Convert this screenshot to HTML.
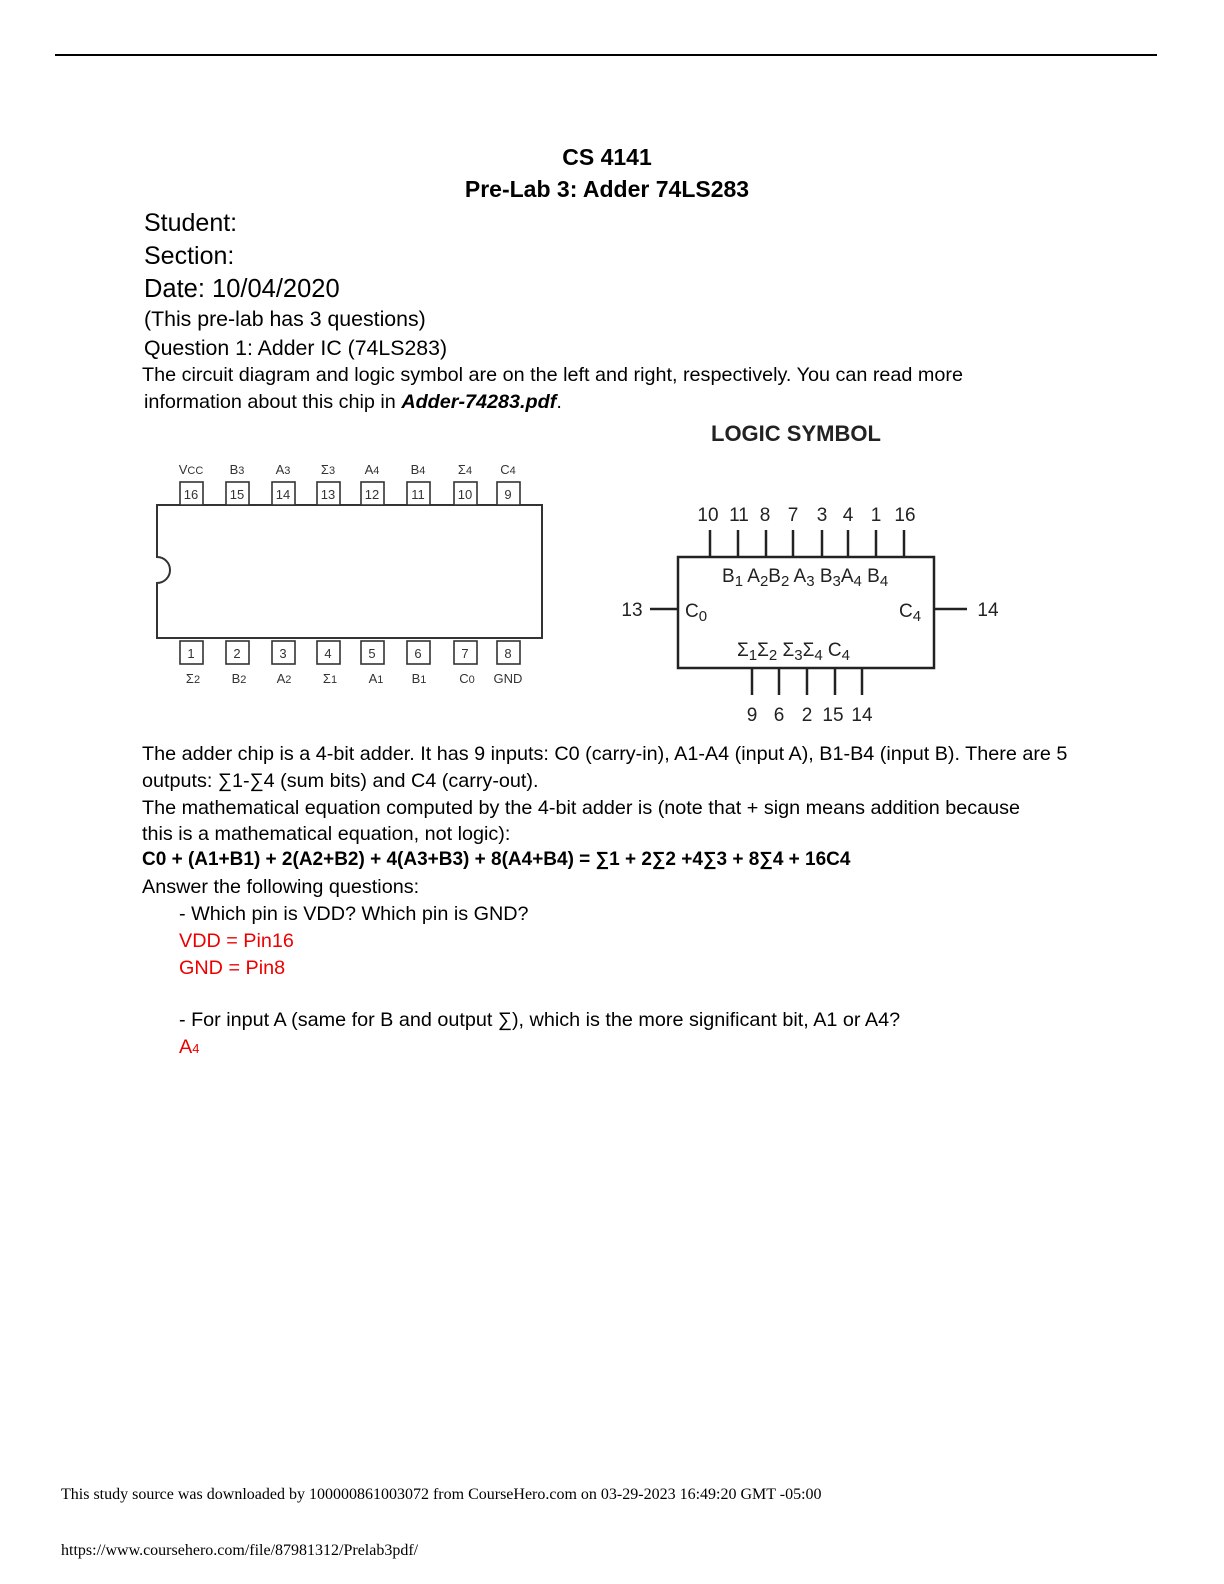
<!DOCTYPE html>
<html><head><style>
body{margin:0;width:1224px;height:1584px;background:#fff;position:relative;font-family:"Liberation Sans",sans-serif;color:#000;overflow:hidden}
.t{position:absolute;white-space:nowrap}
.r{color:#e00}
.b{font-size:19.8px}
</style></head><body>
<div style="position:absolute;left:55px;top:54px;width:1102px;height:1.5px;background:#000"></div>
<div class="t" style="left:0;width:1214px;text-align:center;top:144px;font-size:23px;font-weight:bold">CS 4141</div>
<div class="t" style="left:0;width:1214px;text-align:center;top:176px;font-size:23px;font-weight:bold">Pre-Lab 3: Adder 74LS283</div>
<div class="t" style="left:144px;top:209px;font-size:25px">Student:</div>
<div class="t" style="left:144px;top:242px;font-size:25px">Section:</div>
<div class="t" style="left:144px;top:275px;font-size:25.5px">Date: 10/04/2020</div>
<div class="t" style="left:144px;top:307px;font-size:21.3px">(This pre-lab has 3 questions)</div>
<div class="t" style="left:144px;top:336px;font-size:21.3px">Question 1: Adder IC (74LS283)</div>
<div class="t b" style="left:142px;top:364px">The circuit diagram and logic symbol are on the left and right, respectively. You can read more</div>
<div class="t b" style="left:144px;top:391px">information about this chip in <b><i>Adder-74283.pdf</i></b>.</div>
<div class="t" style="left:711px;top:421px;font-size:22px;font-weight:bold;color:#222">LOGIC SYMBOL</div>

<svg style="position:absolute;left:0;top:0" width="1224" height="760" font-family="Liberation Sans, sans-serif">
<g stroke="#333" stroke-width="2" fill="none">
<path d="M157 505 H542 V638 H157 V583 A13 13 0 0 0 157 557 Z"/>
</g>
<g stroke="#333" stroke-width="1.6" fill="#fff">
<rect x="180" y="482" width="23" height="23"/><rect x="226" y="482" width="23" height="23"/><rect x="272" y="482" width="23" height="23"/><rect x="317" y="482" width="23" height="23"/><rect x="361" y="482" width="23" height="23"/><rect x="407" y="482" width="23" height="23"/><rect x="454" y="482" width="23" height="23"/><rect x="497" y="482" width="23" height="23"/>
<rect x="180" y="641" width="23" height="23"/><rect x="226" y="641" width="23" height="23"/><rect x="272" y="641" width="23" height="23"/><rect x="317" y="641" width="23" height="23"/><rect x="361" y="641" width="23" height="23"/><rect x="407" y="641" width="23" height="23"/><rect x="454" y="641" width="23" height="23"/><rect x="497" y="641" width="23" height="23"/>
</g>
<g fill="#333" font-size="13" text-anchor="middle">
<text x="191" y="499">16</text><text x="237" y="499">15</text><text x="283" y="499">14</text><text x="328" y="499">13</text><text x="372" y="499">12</text><text x="418" y="499">11</text><text x="465" y="499">10</text><text x="508" y="499">9</text>
<text x="191" y="658">1</text><text x="237" y="658">2</text><text x="283" y="658">3</text><text x="328" y="658">4</text><text x="372" y="658">5</text><text x="418" y="658">6</text><text x="465" y="658">7</text><text x="508" y="658">8</text>
<text x="191" y="474">V<tspan font-size="11">CC</tspan></text><text x="237" y="474">B<tspan font-size="11">3</tspan></text><text x="283" y="474">A<tspan font-size="11">3</tspan></text><text x="328" y="474">Σ<tspan font-size="11">3</tspan></text><text x="372" y="474">A<tspan font-size="11">4</tspan></text><text x="418" y="474">B<tspan font-size="11">4</tspan></text><text x="465" y="474">Σ<tspan font-size="11">4</tspan></text><text x="508" y="474">C<tspan font-size="11">4</tspan></text>
<text x="193" y="683">Σ<tspan font-size="11">2</tspan></text><text x="239" y="683">B<tspan font-size="11">2</tspan></text><text x="284" y="683">A<tspan font-size="11">2</tspan></text><text x="330" y="683">Σ<tspan font-size="11">1</tspan></text><text x="376" y="683">A<tspan font-size="11">1</tspan></text><text x="419" y="683">B<tspan font-size="11">1</tspan></text><text x="467" y="683">C<tspan font-size="11">0</tspan></text><text x="508" y="683">GND</text>
</g>
<g stroke="#222" stroke-width="2.5" fill="none">
<rect x="678" y="557" width="256" height="111"/>
<path d="M710 530V557M738 530V557M766 530V557M793 530V557M822 530V557M848 530V557M876 530V557M904 530V557"/>
<path d="M752 668V695M779 668V695M807 668V695M835 668V695M862 668V695"/>
<path d="M650 609H678M934 609H967"/>
</g>
<g fill="#222" font-size="19" text-anchor="middle">
<text x="708" y="521">10</text><text x="739" y="521">11</text><text x="765" y="521">8</text><text x="793" y="521">7</text><text x="822" y="521">3</text><text x="848" y="521">4</text><text x="876" y="521">1</text><text x="905" y="521">16</text>
<text x="752" y="721">9</text><text x="779" y="721">6</text><text x="807" y="721">2</text><text x="833" y="721">15</text><text x="862" y="721">14</text>
<text x="632" y="616">13</text><text x="988" y="616">14</text>
</g>
<g fill="#222" font-size="19">
<text x="722" y="582">B<tspan font-size="15" dy="4">1</tspan><tspan dy="-4"> A</tspan><tspan font-size="15" dy="4">2</tspan><tspan dy="-4">B</tspan><tspan font-size="15" dy="4">2</tspan><tspan dy="-4"> A</tspan><tspan font-size="15" dy="4">3</tspan><tspan dy="-4"> B</tspan><tspan font-size="15" dy="4">3</tspan><tspan dy="-4">A</tspan><tspan font-size="15" dy="4">4</tspan><tspan dy="-4"> B</tspan><tspan font-size="15" dy="4">4</tspan></text>
<text x="685" y="617">C<tspan font-size="15" dy="4">0</tspan></text>
<text x="899" y="617">C<tspan font-size="15" dy="4">4</tspan></text>
<text x="737" y="656">Σ<tspan font-size="15" dy="4">1</tspan><tspan dy="-4">Σ</tspan><tspan font-size="15" dy="4">2</tspan><tspan dy="-4"> Σ</tspan><tspan font-size="15" dy="4">3</tspan><tspan dy="-4">Σ</tspan><tspan font-size="15" dy="4">4</tspan><tspan dy="-4"> C</tspan><tspan font-size="15" dy="4">4</tspan></text>
</g>
</svg>

<div class="t b" style="left:142px;top:743px">The adder chip is a 4-bit adder. It has 9 inputs: C0 (carry-in), A1-A4 (input A), B1-B4 (input B). There are 5</div>
<div class="t b" style="left:142px;top:770px">outputs: ∑1-∑4 (sum bits) and C4 (carry-out).</div>
<div class="t b" style="left:142px;top:797px">The mathematical equation computed by the 4-bit adder is (note that + sign means addition because</div>
<div class="t b" style="left:142px;top:823px">this is a mathematical equation, not logic):</div>
<div class="t" style="left:142px;top:849px;font-size:19px;font-weight:bold">C0 + (A1+B1) + 2(A2+B2) + 4(A3+B3) + 8(A4+B4) = ∑1 + 2∑2 +4∑3 + 8∑4 + 16C4</div>
<div class="t b" style="left:142px;top:876px">Answer the following questions:</div>
<div class="t b" style="left:179px;top:903px">- Which pin is VDD? Which pin is GND?</div>
<div class="t r b" style="left:179px;top:930px">VDD = Pin16</div>
<div class="t r b" style="left:179px;top:957px">GND = Pin8</div>
<div class="t b" style="left:179px;top:1009px">- For input A (same for B and output ∑), which is the more significant bit, A1 or A4?</div>
<div class="t r b" style="left:179px;top:1036px">A<span style="font-size:13px">4</span></div>
<div class="t" style="left:61px;top:1486px;font-size:16px;font-family:'Liberation Serif',serif">This study source was downloaded by 100000861003072 from CourseHero.com on 03-29-2023 16:49:20 GMT -05:00</div>
<div class="t" style="left:61px;top:1542px;font-size:16px;font-family:'Liberation Serif',serif">https://www.coursehero.com/file/87981312/Prelab3pdf/</div>
</body></html>
